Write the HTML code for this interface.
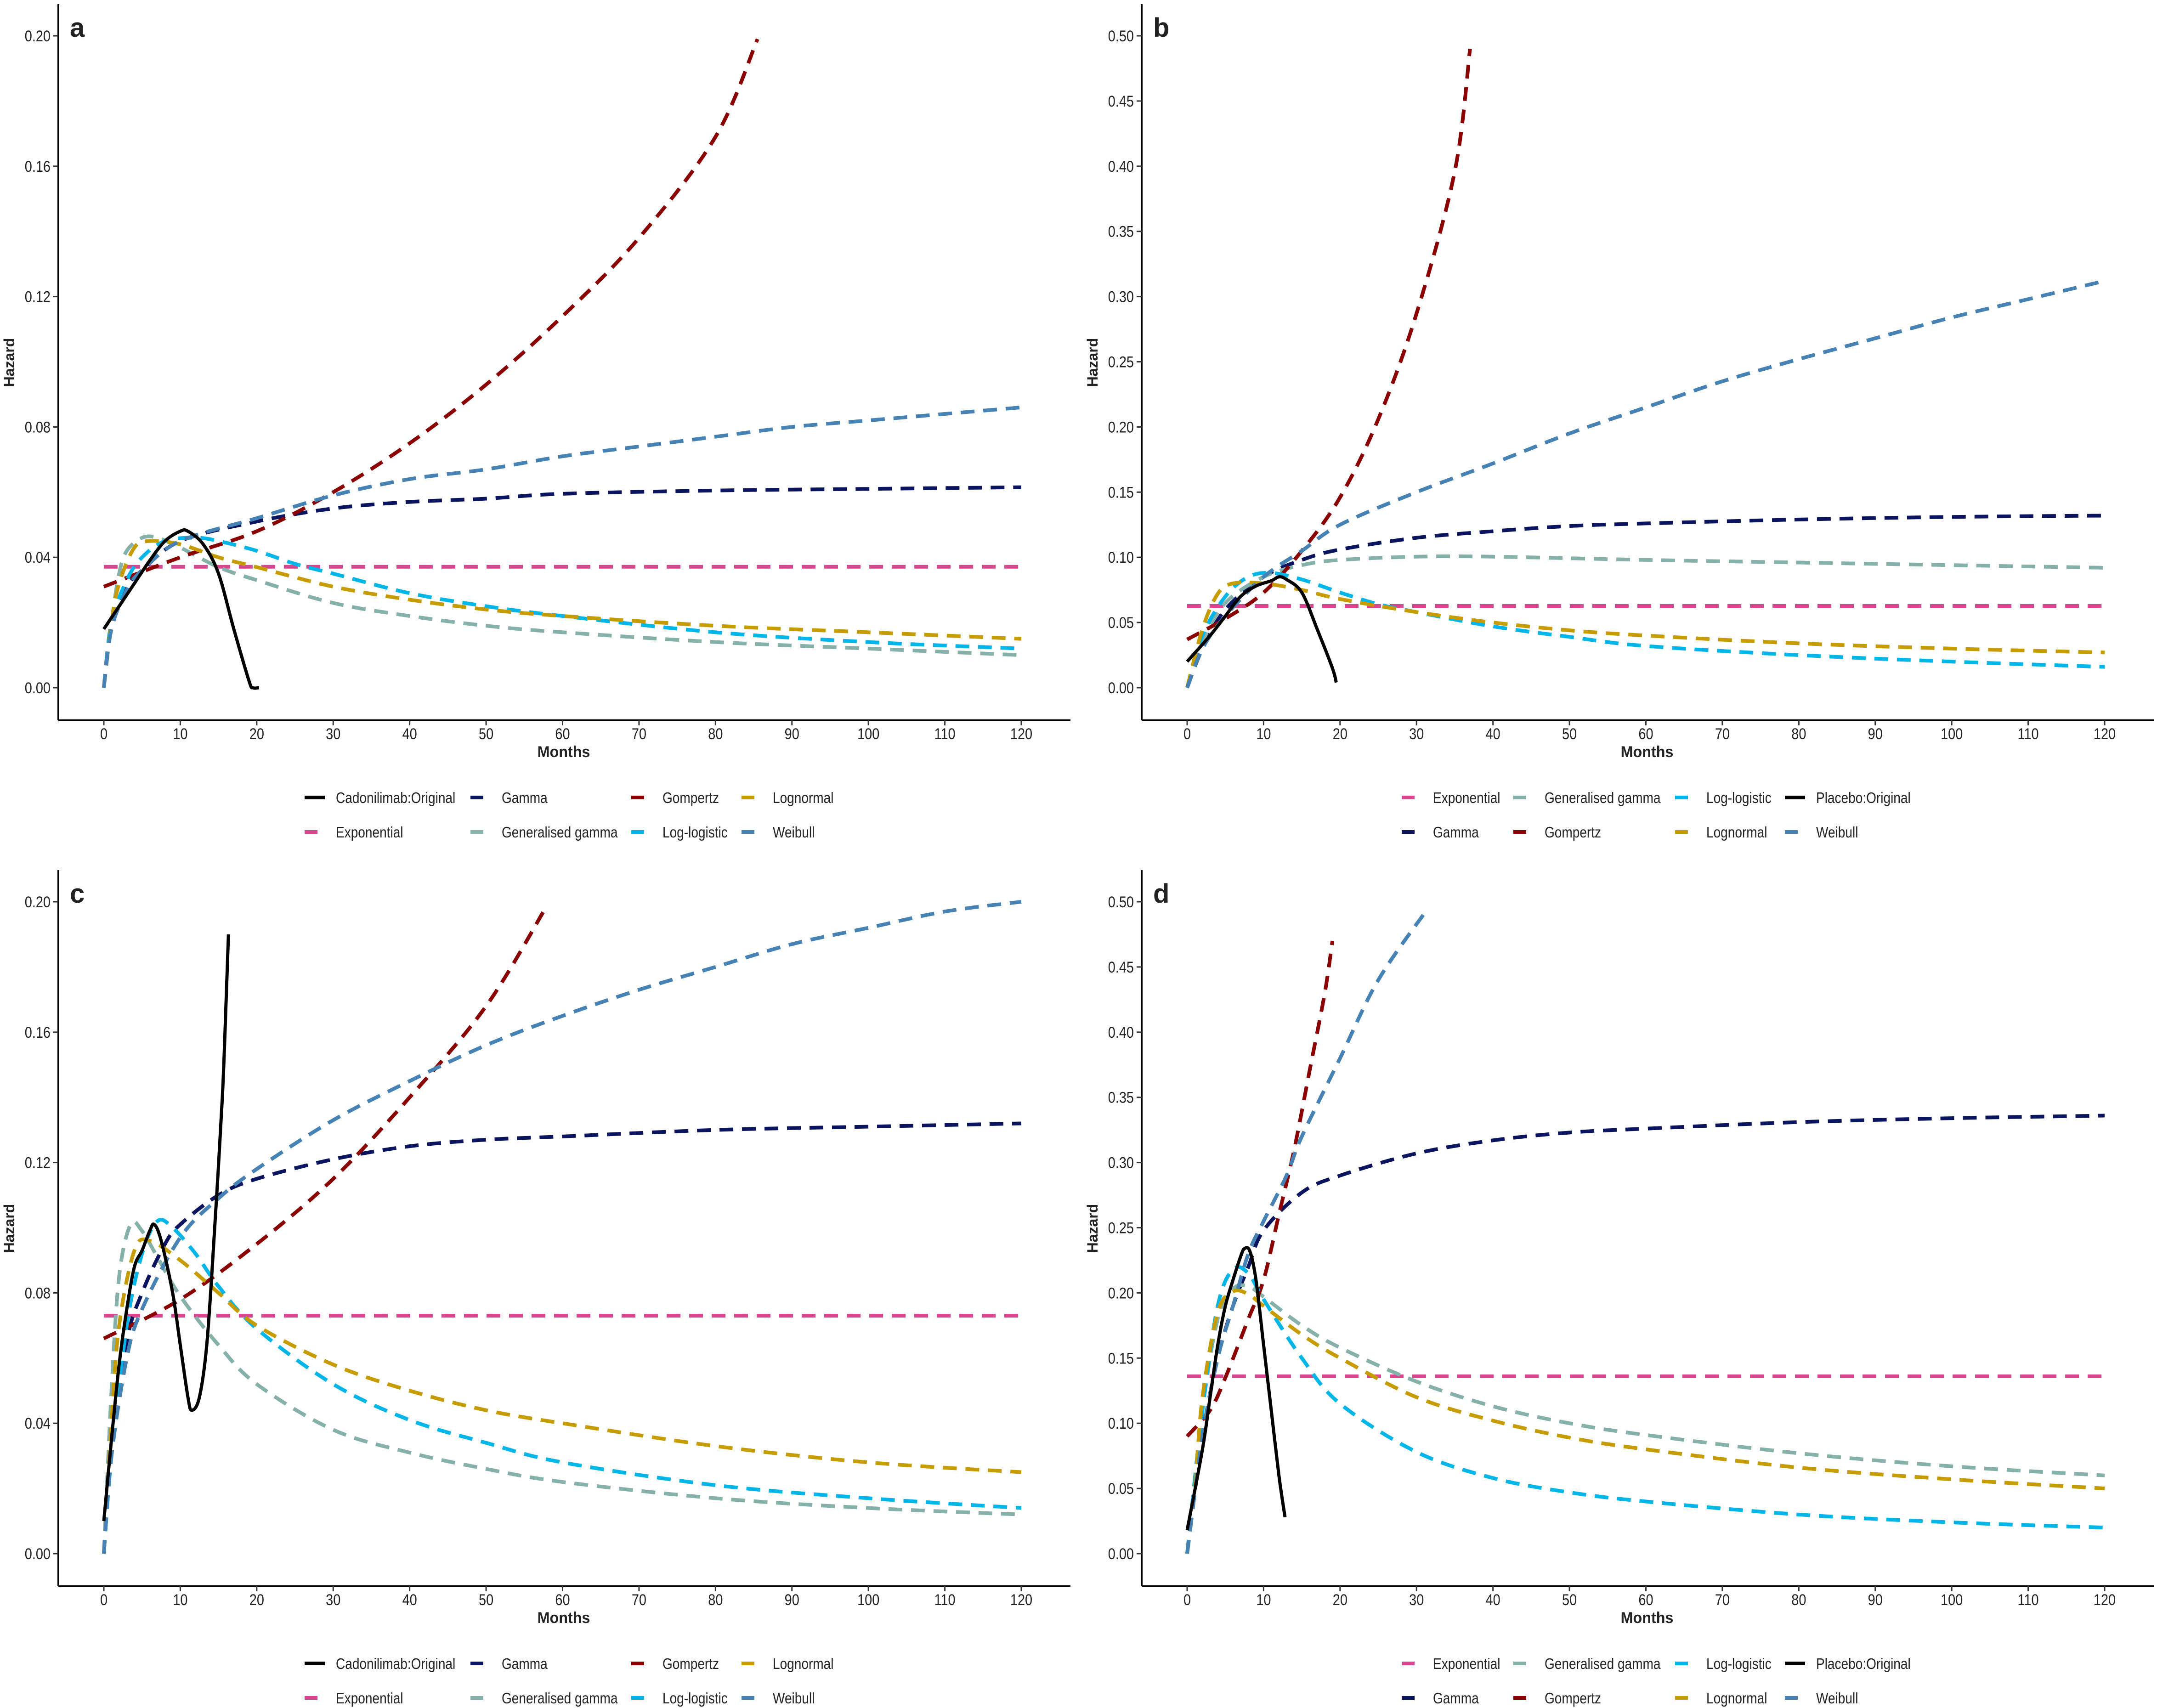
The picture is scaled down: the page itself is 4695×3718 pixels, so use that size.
<!DOCTYPE html>
<html><head><meta charset="utf-8"><style>
html,body{margin:0;padding:0;background:#fff;}
svg{display:block;}
text{font-family:"Liberation Sans Narrow","Liberation Sans",sans-serif;fill:#222;}
</style></head><body>
<svg id="chart" width="4695" height="3718" viewBox="0 0 4695 3718" xmlns="http://www.w3.org/2000/svg"></svg>
<script>
// ---- data (months -> hazard) ----
const names = ["Exponential","Gamma","Generalised gamma","Gompertz","Log-logistic","Lognormal","Weibull"];
const colors = {"Exponential":"#D8468F","Gamma":"#0B145E","Generalised gamma":"#86B1AA","Gompertz":"#8B0000","Log-logistic":"#00B5E8","Lognormal":"#C79C00","Weibull":"#4682B4","Original":"#000000"};

// Panel a
const aExpX=[0,120], aExpY=[0.0371,0.0371];
const aGamX=[0,1,3,5,10,20,30,40,50,60,80,100,120], aGamY=[0,0.02,0.031,0.036,0.045,0.051,0.055,0.057,0.058,0.0595,0.0605,0.061,0.0615];
const aGGX=[0,1,2,3,5,7,10,15,20,30,40,50,60,80,100,120], aGGY=[0,0.02,0.035,0.042,0.046,0.046,0.043,0.037,0.033,0.026,0.022,0.019,0.017,0.014,0.012,0.010];
const aGomX=[0,10,20,30,40,50,60,70,80,85.5], aGomY=[0.031,0.040,0.048,0.060,0.075,0.093,0.114,0.138,0.169,0.199];
const aLLX=[0,1,3,5,8,12,15,20,25,30,40,50,60,80,100,120], aLLY=[0,0.02,0.033,0.040,0.045,0.046,0.045,0.042,0.038,0.035,0.029,0.025,0.022,0.017,0.014,0.012];
const aLNX=[0,1,2,4,6,10,15,20,30,40,50,60,80,100,120], aLNY=[0,0.02,0.032,0.043,0.045,0.044,0.040,0.037,0.031,0.027,0.024,0.022,0.019,0.017,0.015];
const aWeiX=[0,1,3,5,10,20,30,40,50,60,70,80,90,100,110,120], aWeiY=[0,0.018,0.030,0.036,0.045,0.052,0.059,0.064,0.067,0.071,0.074,0.077,0.080,0.082,0.084,0.086];
const aOrgX=[0,2,4,6,8,10,11,13,15,17,19,19.5,20.3], aOrgY=[0.018,0.025,0.032,0.039,0.045,0.048,0.048,0.044,0.035,0.018,0.002,0,0];
// Panel b
const bExpX=[0,120], bExpY=[0.0627,0.0627];
const bGamX=[0,2,5,10,15,20,30,40,50,60,80,100,120], bGamY=[0,0.03,0.06,0.085,0.098,0.106,0.115,0.120,0.124,0.126,0.129,0.131,0.132];
const bGGX=[0,2,5,10,15,20,30,40,60,80,100,120], bGGY=[0,0.035,0.065,0.085,0.094,0.098,0.1005,0.1005,0.098,0.096,0.094,0.092];
const bGomX=[0,5,10,15,20,25,30,35,37], bGomY=[0.037,0.053,0.073,0.105,0.146,0.206,0.287,0.396,0.49];
const bLLX=[0,2,5,8,11,15,20,25,30,40,50,60,80,100,120], bLLY=[0,0.04,0.07,0.085,0.088,0.083,0.073,0.064,0.058,0.047,0.039,0.032,0.025,0.020,0.016];
const bLNX=[0,2,4,6,10,15,20,30,40,50,60,80,100,120], bLNY=[0,0.045,0.072,0.080,0.080,0.075,0.068,0.058,0.050,0.044,0.040,0.034,0.030,0.027];
const bWeiX=[0,2,5,10,15,20,30,40,50,60,70,80,90,100,110,120], bWeiY=[0,0.03,0.055,0.085,0.105,0.125,0.150,0.172,0.195,0.215,0.235,0.252,0.268,0.284,0.298,0.312];
const bOrgX=[0,3,5,7,9,11,12,13,15,17,19,19.5], bOrgY=[0.02,0.04,0.055,0.07,0.078,0.082,0.085,0.083,0.073,0.045,0.015,0.004];
// Panel c
const cExpX=[0,120], cExpY=[0.073,0.073];
const cGamX=[0,1,3,5,8,10,15,20,30,40,50,60,80,100,120], cGamY=[0,0.03,0.065,0.08,0.095,0.101,0.110,0.115,0.121,0.125,0.127,0.128,0.130,0.131,0.132];
const cGGX=[0,1,2,3.5,5,7,10,15,20,30,40,50,60,80,100,120], cGGY=[0,0.05,0.085,0.101,0.099,0.091,0.079,0.064,0.052,0.038,0.031,0.026,0.022,0.017,0.014,0.012];
const cGomX=[0,10,20,30,40,50,58], cGomY=[0.066,0.078,0.095,0.115,0.140,0.168,0.199];
const cLLX=[0,1,3,5,7,9,12,15,20,30,40,50,60,80,100,120], cLLY=[0,0.03,0.07,0.092,0.102,0.100,0.092,0.082,0.069,0.052,0.041,0.034,0.028,0.021,0.017,0.014];
const cLNX=[0,1,2,4,6,10,15,20,30,40,50,60,80,100,120], cLNY=[0,0.04,0.07,0.093,0.096,0.090,0.080,0.070,0.058,0.050,0.044,0.040,0.033,0.028,0.025];
const cWeiX=[0,1,3,5,10,15,20,30,40,50,60,70,80,90,100,110,120], cWeiY=[0,0.03,0.06,0.075,0.097,0.109,0.118,0.133,0.145,0.156,0.165,0.173,0.180,0.187,0.192,0.197,0.200];
const cOrgX=[0,1,2,3,4,5,6,6.6,7.5,9,10,11,11.5,12.5,13.5,14.5,15.5,16,16.3], cOrgY=[0.01,0.035,0.058,0.075,0.088,0.093,0.099,0.101,0.096,0.080,0.064,0.048,0.044,0.048,0.065,0.10,0.14,0.17,0.19];
// Panel d
const dExpX=[0,120], dExpY=[0.136,0.136];
const dGamX=[0,2,4,6,8,10,15,20,30,40,50,60,80,100,120], dGamY=[0,0.09,0.15,0.19,0.22,0.248,0.277,0.29,0.307,0.317,0.323,0.326,0.331,0.334,0.336];
const dGGX=[0,2,4,6,8,10,15,20,30,40,50,60,80,100,120], dGGY=[0,0.11,0.18,0.203,0.205,0.197,0.175,0.158,0.132,0.113,0.100,0.091,0.077,0.067,0.060];
const dGomX=[0,3,5,8,10,12,14,16,18,19], dGomY=[0.09,0.11,0.135,0.18,0.21,0.26,0.31,0.37,0.43,0.47];
const dLLX=[0,2,4,6,8,10,15,20,30,40,50,60,80,100,120], dLLY=[0,0.11,0.19,0.218,0.215,0.195,0.15,0.115,0.078,0.058,0.047,0.040,0.030,0.024,0.020];
const dLNX=[0,1,2,4,6,8,10,15,20,30,40,50,60,80,100,120], dLNY=[0,0.05,0.12,0.185,0.201,0.199,0.19,0.168,0.150,0.120,0.102,0.089,0.080,0.066,0.057,0.050];
const dWeiX=[0,2,4,6,8,10,13,15,20,25,31.5], dWeiY=[0,0.09,0.15,0.19,0.23,0.255,0.29,0.32,0.38,0.44,0.495];
const dOrgX=[0,2,3,4,5,6,7,7.5,8.2,9,10,11,12,12.8], dOrgY=[0.018,0.08,0.12,0.16,0.19,0.21,0.228,0.234,0.232,0.21,0.16,0.11,0.06,0.028];

const xTicks=[0,10,20,30,40,50,60,70,80,90,100,110,120];
const yTicksA=[0,0.04,0.08,0.12,0.16,0.20];
const yTicksB=[0,0.05,0.10,0.15,0.20,0.25,0.30,0.35,0.40,0.45,0.50];

const svg=document.getElementById('chart');
const NS='http://www.w3.org/2000/svg';
function mk(tag,attrs,parent){const e=document.createElementNS(NS,tag);for(const k in attrs)e.setAttribute(k,attrs[k]);(parent||svg).appendChild(e);return e;}
function txt(s,x,y,size,anchor,weight,parent,sx){const t=mk('text',{x:0,y:0,'font-size':size,'text-anchor':anchor||'start','font-weight':weight||'normal',transform:`translate(${x},${y}) scale(${sx||0.85},1)`},parent);t.textContent=s;return t;}
function smooth(pts){let d=`M${pts[0][0]},${pts[0][1]}`;for(let i=0;i<pts.length-1;i++){const p0=pts[i-1]||pts[i],p1=pts[i],p2=pts[i+1],p3=pts[i+2]||p2;const c1=[p1[0]+(p2[0]-p0[0])/6,p1[1]+(p2[1]-p0[1])/6],c2=[p2[0]-(p3[0]-p1[0])/6,p2[1]-(p3[1]-p1[1])/6];d+=` C${c1[0]},${c1[1]} ${c2[0]},${c2[1]} ${p2[0]},${p2[1]}`;}return d;}

const panels=[
 {id:'a',dx:0,dy:0,ymax:0.2,yt:yTicksA,orig:'Cadonilimab:Original',series:{"Exponential":[aExpX,aExpY],"Gamma":[aGamX,aGamY],"Generalised gamma":[aGGX,aGGY],"Gompertz":[aGomX,aGomY],"Log-logistic":[aLLX,aLLY],"Lognormal":[aLNX,aLNY],"Weibull":[aWeiX,aWeiY]},o:[aOrgX,aOrgY],leg:1},
 {id:'b',dx:2358,dy:0,ymax:0.5,yt:yTicksB,orig:'Placebo:Original',series:{"Exponential":[bExpX,bExpY],"Gamma":[bGamX,bGamY],"Generalised gamma":[bGGX,bGGY],"Gompertz":[bGomX,bGomY],"Log-logistic":[bLLX,bLLY],"Lognormal":[bLNX,bLNY],"Weibull":[bWeiX,bWeiY]},o:[bOrgX,bOrgY],leg:2},
 {id:'c',dx:0,dy:1885,ymax:0.2,yt:yTicksA,orig:'Cadonilimab:Original',series:{"Exponential":[cExpX,cExpY],"Gamma":[cGamX,cGamY],"Generalised gamma":[cGGX,cGGY],"Gompertz":[cGomX,cGomY],"Log-logistic":[cLLX,cLLY],"Lognormal":[cLNX,cLNY],"Weibull":[cWeiX,cWeiY]},o:[cOrgX,cOrgY],leg:1},
 {id:'d',dx:2358,dy:1885,ymax:0.5,yt:yTicksB,orig:'Placebo:Original',series:{"Exponential":[dExpX,dExpY],"Gamma":[dGamX,dGamY],"Generalised gamma":[dGGX,dGGY],"Gompertz":[dGomX,dGomY],"Log-logistic":[dLLX,dLLY],"Lognormal":[dLNX,dLNY],"Weibull":[dWeiX,dWeiY]},o:[dOrgX,dOrgY],leg:2}
];

panels.forEach(p=>{
  const g=mk('g',{});
  
  
  const X=m=>p.dx+226+(m/120)*1997;
  const Y=v=>p.dy+1497-(v/p.ymax)*1419;
  const axL=p.dx+127, axB=p.dy+1568;
  const yax=mk('line',{x1:axL,y1:p.dy+9,x2:axL,y2:axB,stroke:'#000','stroke-width':4},g);
  
  
  const xax=mk('line',{x1:axL,y1:axB,x2:p.dx+2330,y2:axB,stroke:'#000','stroke-width':4},g);
  
  
  xTicks.forEach(t=>{
    mk('line',{x1:X(t),y1:axB,x2:X(t),y2:axB+11,stroke:'#333','stroke-width':3},g);
    const l=txt(String(t),X(t),axB+41,34,'middle','normal',g);
    
    
  });
  p.yt.forEach(t=>{
    mk('line',{x1:axL-11,y1:Y(t),x2:axL,y2:Y(t),stroke:'#333','stroke-width':3},g);
    const l=txt(t.toFixed(2),axL-17,Y(t)+12,34,'end','normal',g);
    
    
  });
  const xt=txt('Months',p.dx+1227,axB+80,34,'middle','bold',g,0.95);
  
  
  const yt=mk('text',{x:0,y:0,'font-size':32,'font-weight':'bold','text-anchor':'middle',transform:`translate(${p.dx+31},${p.dy+789}) rotate(-90)`},g);
  yt.textContent='Hazard';
  
  
  const pl=txt(p.id,p.dx+152,p.dy+80,58,'start','bold',g,1);
  
  
  // series
  names.forEach(n=>{
    const [xs,ys]=p.series[n];
    const pts=xs.map((m,i)=>[X(m),Y(ys[i])]);
    const path=mk('path',{d:smooth(pts),fill:'none',stroke:colors[n],'stroke-width':8,'stroke-dasharray':'30 19'},g);
    
    
  });
  const opts=p.o[0].map((m,i)=>[X(m),Y(p.o[1][i])]);
  const op=mk('path',{d:smooth(opts),fill:'none',stroke:'#000','stroke-width':7},g);
  
  
  // legend
  let items;
  const r1=p.dy+1736, r2=p.dy+1811;
  if(p.leg===1){
    items=[[p.orig,'Original',663,r1],['Gamma','Gamma',1024,r1],['Gompertz','Gompertz',1374,r1],['Lognormal','Lognormal',1614,r1],
           ['Exponential','Exponential',663,r2],['Generalised gamma','Generalised gamma',1024,r2],['Log-logistic','Log-logistic',1374,r2],['Weibull','Weibull',1614,r2]];
  } else {
    items=[['Exponential','Exponential',693,r1],['Generalised gamma','Generalised gamma',936,r1],['Log-logistic','Log-logistic',1288,r1],[p.orig,'Original',1527,r1],
           ['Gamma','Gamma',693,r2],['Gompertz','Gompertz',936,r2],['Lognormal','Lognormal',1288,r2],['Weibull','Weibull',1527,r2]];
  }
  items.forEach(([label,key,lx,ly])=>{
    const lg=mk('g',{},g);
    
    
    const x0=p.dx+lx;
    if(key==='Original') mk('line',{x1:x0,y1:ly,x2:x0+44,y2:ly,stroke:'#000','stroke-width':8},lg);
    else mk('line',{x1:x0,y1:ly,x2:x0+28,y2:ly,stroke:colors[key],'stroke-width':8},lg);
    txt(label,x0+68,ly+12,33,'start','normal',lg);
  });
});
</script>
</body></html>
